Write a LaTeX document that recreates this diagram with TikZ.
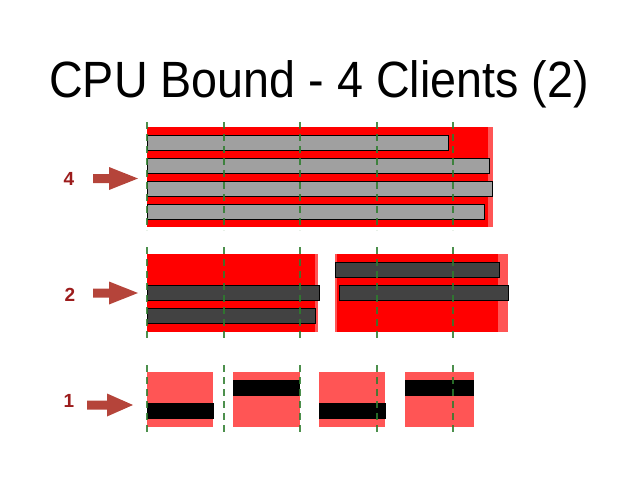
\documentclass[tikz,border=0pt]{standalone}
\usepackage{fontspec}
\setmainfont{Liberation Sans}
\usepackage{xcolor}
\usetikzlibrary{positioning}

\definecolor{busyred}{HTML}{FF0000}
\definecolor{idlered}{HTML}{FF5555}
\definecolor{waitgray}{HTML}{A0A0A0}
\definecolor{rungray}{HTML}{424242}
\definecolor{tickgreen}{HTML}{2E7D2E}
\definecolor{labelred}{HTML}{9C1C1C}
\definecolor{arrowred}{HTML}{B5443A}

% block arrow: tail x, tip x, head base x, centre y
\newcommand{\levelarrow}[4]{%
  \fill[pointer] (#1,#4-4.5) -- (#3,#4-4.5) -- (#3,#4-11.5) -- (#2,#4)
    -- (#3,#4+11.5) -- (#3,#4+4.5) -- (#1,#4+4.5) -- cycle;}

\begin{document}
\begin{tikzpicture}[
  x=1pt, y=-1pt,
  tick/.style={tickgreen, line width=1.3pt, dash pattern=on 7pt off 5pt, opacity=0.85},
  busy/.style={fill=busyred},
  idle/.style={fill=idlered},
  waitbar/.style={fill=waitgray, draw=black, line width=0.8pt},
  runbar/.style={fill=rungray, draw=black, line width=0.8pt},
  solobar/.style={fill=black},
  level/.style={font=\fontsize{19}{20}\selectfont\bfseries, text=labelred},
  pointer/.style={fill=arrowred}
]
\useasboundingbox (0,0) rectangle (638,479);

% title
\node (title) [font=\fontsize{51}{54}\selectfont, anchor=base] at (319,97)
  {\scalebox{0.915}[1]{CPU Bound - 4 Clients (2)}};

% ==================== 4 clients ====================
\fill[idle] (147,127) rectangle (493,227);
\fill[busy] (147,127) rectangle (488,227);
\draw[waitbar] (147,135) rectangle (448,150);
\draw[waitbar] (147,158) rectangle (489,173);
\draw[waitbar] (147,181) rectangle (492,196);
\draw[waitbar] (147,204) rectangle (484,219);

% ==================== 2 clients ====================
\fill[idle] (147,254) rectangle (318,332);
\fill[busy] (147,254) rectangle (315,332);
\fill[idle] (335,254) rectangle (508,332);
\fill[busy] (337,254) rectangle (498,332);
\draw[runbar] (147,285) rectangle (319,300);
\draw[runbar] (147,308) rectangle (315,323);
\draw[runbar] (335,262) rectangle (499,277);
\draw[runbar] (339,285) rectangle (508,300);

% ==================== 1 client ====================
\fill[idle] (147,372) rectangle (213,427);
\fill[idle] (233,372) rectangle (300,427);
\fill[idle] (319,372) rectangle (385,427);
\fill[idle] (405,372) rectangle (474,427);
\fill[solobar] (147,403) rectangle (214,419);
\fill[solobar] (233,380) rectangle (300,396);
\fill[solobar] (319,403) rectangle (386,419);
\fill[solobar] (405,380) rectangle (474,396);

% time ticks
\foreach \x in {147,224,300,377,453} {
  \draw[tick] (\x,122) -- (\x,230);
  \draw[tick] (\x,247) -- (\x,339);
  \draw[tick] (\x,365) -- (\x,433);
}

% level labels and arrows
\node (lvlfour) [level] at (69,179) {4};
\node (lvltwo) [level] at (70,295) {2};
\node (lvlone) [level] at (69,401) {1};
\levelarrow{93}{138}{109}{178.5}
\levelarrow{93}{138}{109}{293}
\levelarrow{87}{133}{107}{405}

\end{tikzpicture}
\end{document}
